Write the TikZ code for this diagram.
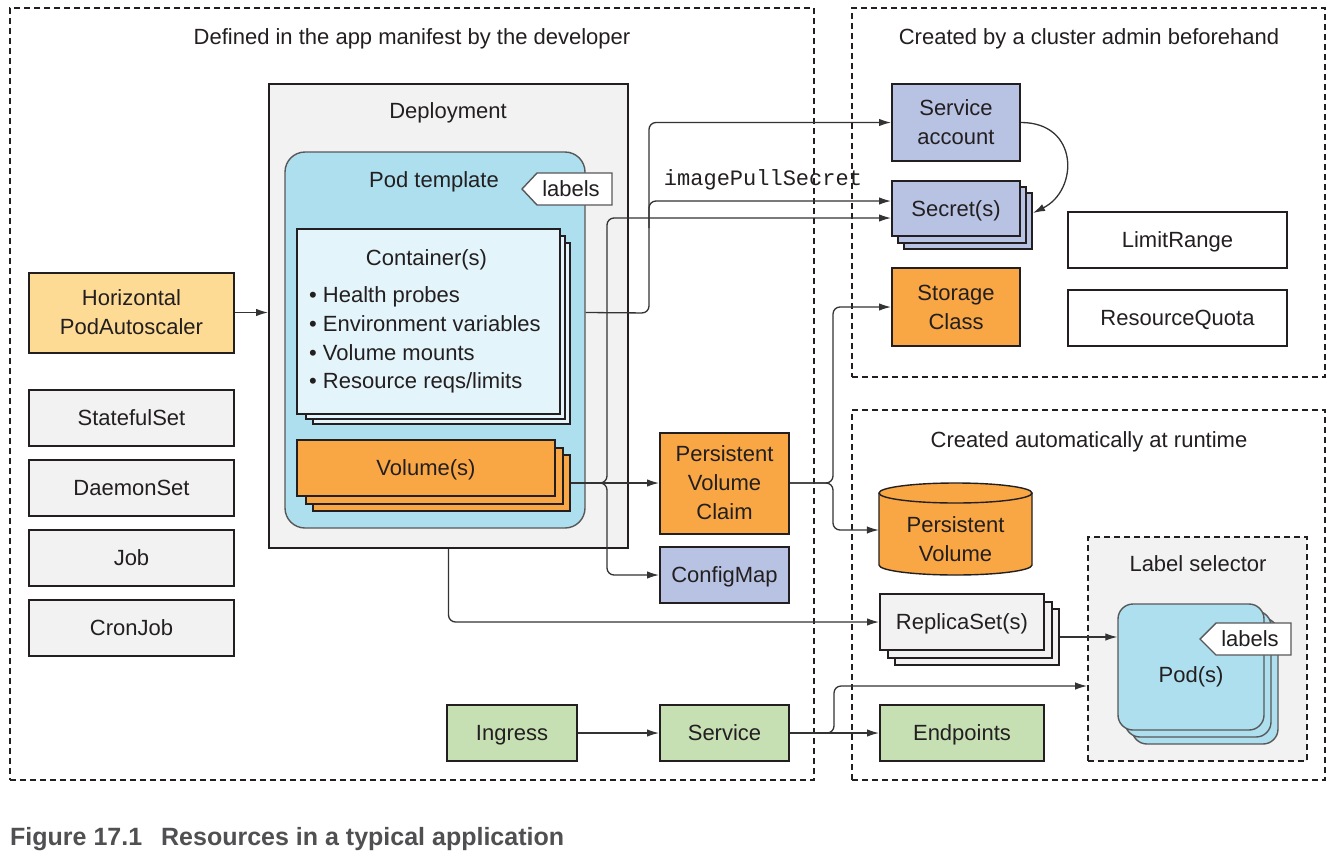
\documentclass[tikz,border=0pt]{standalone}
\usepackage{fontspec}
\setmainfont{Liberation Sans}
\setmonofont{Liberation Mono}
\usetikzlibrary{arrows.meta,calc}
\definecolor{ink}{HTML}{231F20}
\definecolor{grayfill}{HTML}{F2F2F2}
\definecolor{podblue}{HTML}{ADDFEE}
\definecolor{contblue}{HTML}{E3F4FA}
\definecolor{orangef}{HTML}{F9A644}
\definecolor{hpaf}{HTML}{FDDB94}
\definecolor{lavf}{HTML}{B8C3E4}
\definecolor{greenf}{HTML}{C6E0B4}
\definecolor{thinc}{HTML}{58585A}
\definecolor{capc}{HTML}{505052}
\definecolor{connc}{HTML}{333333}
\begin{document}
\begin{tikzpicture}[x=1pt,y=-1pt,
  txt/.style={font=\fontsize{22}{29}\selectfont, text=ink, inner sep=0pt, align=center},
  oneline/.style={text height=15.8pt, text depth=0pt},
  lbl/.style={txt, oneline},
  box/.style={txt, draw=ink, line width=2pt, rectangle},
  sbox/.style={box, oneline},
  region/.style={draw=ink, line width=1.8pt, dash pattern=on 6pt off 4pt, fill=white},
  podbox/.style={draw=thinc, line width=1.4pt, fill=podblue, rounded corners=15pt, minimum width=146pt, minimum height=126pt},
  tagbox/.style={draw=thinc, line width=1.4pt, fill=white},
  conn/.style={draw=connc, line width=1.3pt, rounded corners=7pt},
  arr/.style={conn, -{Latex[length=12pt,width=7.5pt]}}]
\useasboundingbox (0,0) rectangle (1333,854);
\fill[white] (0,0) rectangle (1333,854);

% regions
\node[region, minimum width=804pt, minimum height=772pt] (reg1) at (412,394) {};
\node[region, minimum width=473pt, minimum height=369pt] (reg2) at (1088.5,192.5) {};
\node[region, minimum width=473pt, minimum height=370pt] (reg3) at (1088.5,595) {};
\node[lbl] (t1) at (412,37) {Defined in the app manifest by the developer};
\node[lbl] (t2) at (1089,37) {Created by a cluster admin beforehand};
\node[lbl] (t3) at (1089,440) {Created automatically at runtime};

% left column
\node[box, fill=hpaf, minimum width=205pt, minimum height=80pt] (hpa) at (131.5,312.5) {Horizontal\\PodAutoscaler};
\node[sbox, fill=grayfill, minimum width=205pt, minimum height=56pt] (sset) at (131.5,418) {StatefulSet};
\node[sbox, fill=grayfill, minimum width=205pt, minimum height=56pt] (dset) at (131.5,488) {DaemonSet};
\node[sbox, fill=grayfill, minimum width=205pt, minimum height=56pt] (job) at (131.5,558) {Job};
\node[sbox, fill=grayfill, minimum width=205pt, minimum height=56pt] (cron) at (131.5,628) {CronJob};

% deployment
\node[box, fill=grayfill, minimum width=359pt, minimum height=464pt] (dep) at (448.5,316) {};
\node[lbl] (deptitle) at (448,111) {Deployment};
\node[draw=thinc, line width=1.4pt, fill=podblue, rounded corners=20pt, minimum width=300pt, minimum height=376pt] (podt) at (435,340) {};
\node[lbl] (podttitle) at (434,180) {Pod template};
\draw[tagbox] (522,189) -- (537,173) -- (612,173) -- (612,205) -- (537,205) -- cycle;
\node[lbl] (lab1) at (571,189) {labels};

% containers
\node[box, fill=contblue, minimum width=257pt, minimum height=181pt] (cont3) at (441.5,333.5) {};
\node[box, fill=contblue, minimum width=259pt, minimum height=183pt] (cont2) at (435.5,327.5) {};
\node[box, fill=contblue, minimum width=263pt, minimum height=185pt] (cont1) at (428.5,321.5) {};
\node[lbl] (conttitle) at (426.5,258) {Container(s)};
\node[lbl, anchor=west] (b1) at (309,295) {\textbullet\ Health probes};
\node[lbl, anchor=west] (b2) at (309,324) {\textbullet\ Environment variables};
\node[lbl, anchor=west] (b3) at (309,352.5) {\textbullet\ Volume mounts};
\node[lbl, anchor=west] (b4) at (309,381) {\textbullet\ Resource reqs/limits};

% volumes
\node[box, fill=orangef, minimum width=257pt, minimum height=56pt] (vol3) at (441.5,483) {};
\node[box, fill=orangef, minimum width=257pt, minimum height=56pt] (vol2) at (434.5,476) {};
\node[sbox, fill=orangef, minimum width=258pt, minimum height=56pt] (vol1) at (426,468) {Volume(s)};

% cluster admin
\node[box, fill=lavf, minimum width=128pt, minimum height=77pt] (sa) at (956,122.5) {Service\\account};
\node[box, fill=lavf, minimum width=128pt, minimum height=56pt] (sec3) at (968,221) {};
\node[box, fill=lavf, minimum width=128pt, minimum height=56pt] (sec2) at (962,215) {};
\node[sbox, fill=lavf, minimum width=128pt, minimum height=55pt] (sec1) at (956,208.5) {Secret(s)};
\node[box, fill=orangef, minimum width=128pt, minimum height=78pt] (sc) at (956,307) {Storage\\Class};
\node[sbox, fill=white, minimum width=219pt, minimum height=56pt] (lr) at (1177.5,240) {LimitRange};
\node[sbox, fill=white, minimum width=219pt, minimum height=56pt] (rq) at (1177.5,318) {ResourceQuota};

% middle column
\node[box, fill=orangef, minimum width=129pt, minimum height=101pt] (pvc) at (724.5,483) {Persistent\\Volume\\Claim};
\node[sbox, fill=lavf, minimum width=129pt, minimum height=56pt] (cm) at (724.5,575) {ConfigMap};
\node[sbox, fill=greenf, minimum width=130pt, minimum height=56pt] (ing) at (512,733) {Ingress};
\node[sbox, fill=greenf, minimum width=129pt, minimum height=56pt] (svc) at (724.5,733) {Service};

% runtime
\fill[orangef] (879,493) -- (879,565) arc[start angle=180, end angle=360, x radius=76.5pt, y radius=10pt] -- (1032,493) arc[start angle=0, end angle=180, x radius=76.5pt, y radius=10pt] -- cycle;
\draw[ink, line width=1.4pt] (879,493) -- (879,565) arc[start angle=180, end angle=360, x radius=76.5pt, y radius=10pt] -- (1032,493);
\draw[ink, line width=1.4pt] (955.5,493) ellipse [x radius=76.5pt, y radius=10pt];
\node[minimum width=153pt, minimum height=92pt, inner sep=0pt] (pv) at (955.5,530) {};
\node[txt] (pvtext) at (955.5,539.5) {Persistent\\Volume};

\node[box, fill=grayfill, minimum width=164pt, minimum height=56pt] (rs3) at (977,637) {};
\node[box, fill=grayfill, minimum width=164pt, minimum height=56pt] (rs2) at (969.5,629.5) {};
\node[sbox, fill=grayfill, minimum width=164pt, minimum height=56pt] (rs1) at (962,622) {ReplicaSet(s)};
\node[sbox, fill=greenf, minimum width=164pt, minimum height=56pt] (ep) at (962,733) {Endpoints};

\node[draw=ink, line width=1.8pt, dash pattern=on 6pt off 4pt, fill=grayfill, minimum width=219pt, minimum height=224pt] (lsel) at (1197.5,649) {};
\node[lbl] (lseltitle) at (1198,564) {Label selector};
\node[podbox] (pod3) at (1205,681) {};
\node[podbox] (pod2) at (1198,674) {};
\node[podbox] (pod1) at (1191,667) {};
\node[lbl] (podtext) at (1191,675) {Pod(s)};
\draw[tagbox] (1200,639) -- (1216,623) -- (1291,623) -- (1291,655) -- (1216,655) -- cycle;
\node[lbl] (lab2) at (1250,639) {labels};

% junction coordinates
\coordinate (j1) at (649,313);
\coordinate (j1b) at (649,228);
\coordinate (j2) at (607,483);
\coordinate (j3) at (833,483);
\coordinate (j4) at (834,733);
\coordinate (j5) at (834,686);

% connectors
\draw[arr] (hpa.east) -- (hpa.east -| dep.west);
\draw[arr] (podt.east |- hpa.east) -- (j1) |- (sa.west);
\draw[arr] (j1b) |- ([yshift=7.5pt]sec1.west);
\node[font=\ttfamily\fontsize{22}{26}\selectfont, text=ink, inner sep=0pt, oneline] (ips) at (763,178) {imagePullSecret};
\draw[arr] (vol3.east) -- (pvc.west);
\draw[arr] (vol3.east) -- (j2) |- ([yshift=-9.5pt]sec1.west);
\draw[arr] (vol3.east) -- (j2) |- (cm.west);
\draw[arr] (pvc.east) -- (j3) |- (sc.west);
\draw[arr] (pvc.east) -- (j3) |- (pv.west);
\draw[arr] (dep.south) |- (rs1.west);
\draw[arr] (sa.east) .. controls +(58,0) and +(46,-23) .. ([yshift=8pt]sec3.east);
\draw[arr] (rs3.east) -- (rs3.east -| pod1.west);
\draw[arr] (ing.east) -- (svc.west);
\draw[arr] (svc.east) -- (ep.west);
\draw[arr] (svc.east) -- (j4) -- (j5) -- (j5 -| lsel.west);

% caption
\node[font=\fontsize{25}{30}\selectfont\bfseries, text=capc, anchor=west, inner sep=0pt] (cap) at (10,839) {Figure 17.1\hspace{19pt}Resources in a typical application};
\end{tikzpicture}
\end{document}
